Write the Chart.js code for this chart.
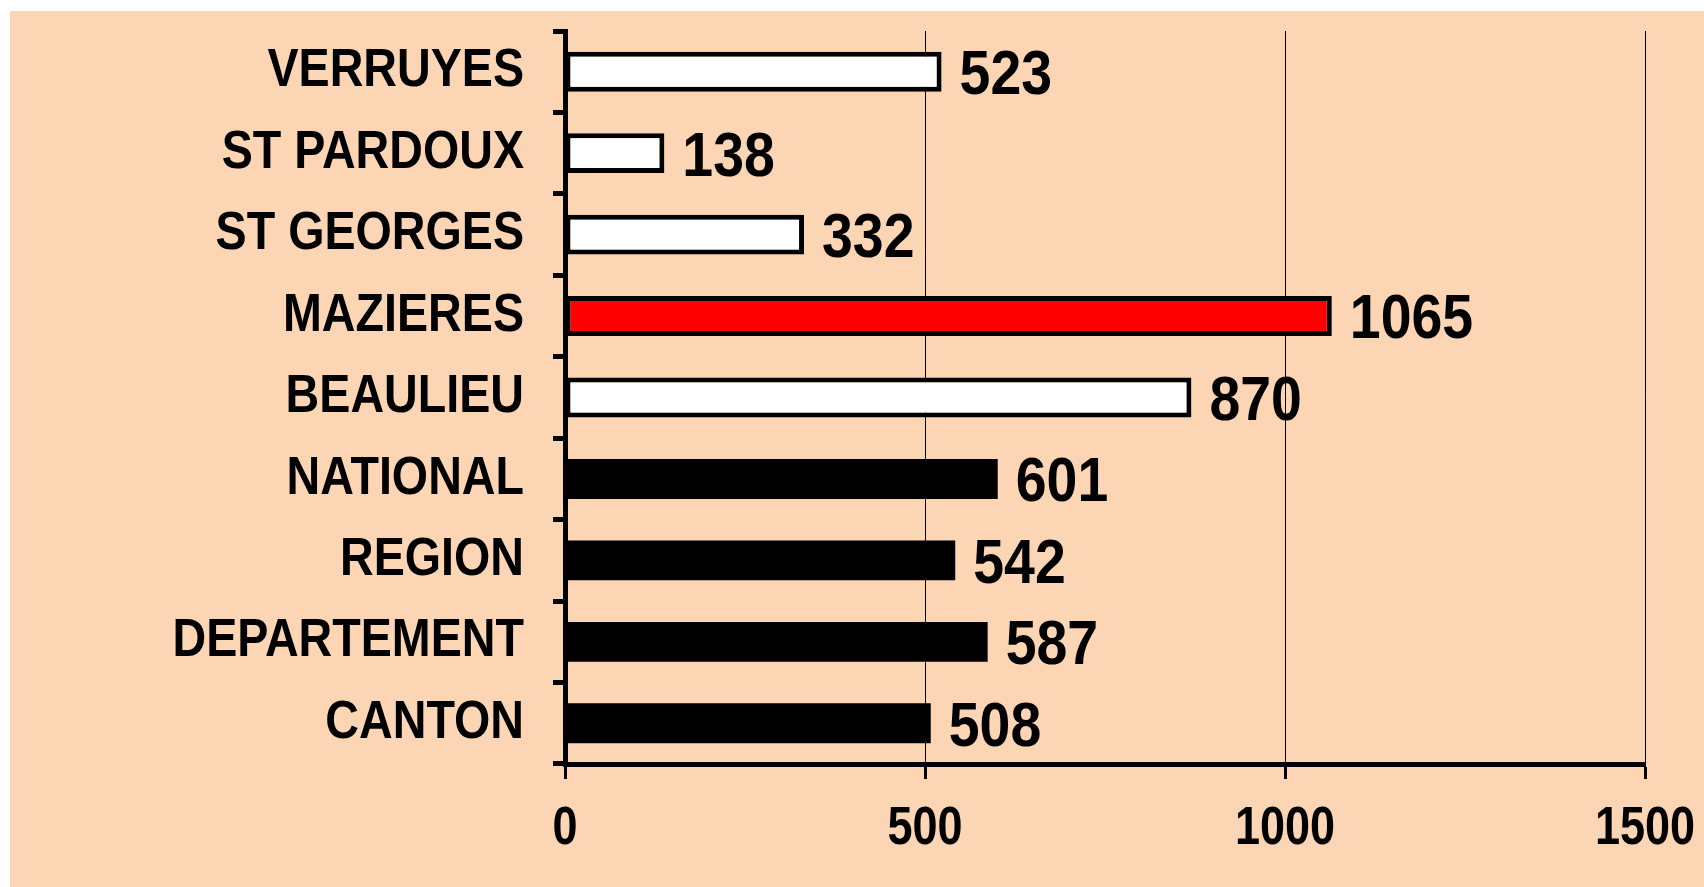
<!DOCTYPE html>
<html>
<head>
<meta charset="utf-8">
<script src="https://cdn.jsdelivr.net/npm/chart.js@4.4.0/dist/chart.umd.min.js"></script>
<style>
  html, body { margin: 0; padding: 0; background: #ffffff; }
  .chart-container {
    position: absolute;
    left: 10px;
    top: 11px;
    width: 1694px;
    height: 876px;
    background: #fcd5b5;
  }
</style>
</head>
<body>
<div class="chart-container">
  <canvas id="chart"></canvas>
</div>
<script>
const categories = [
  'VERRUYES',
  'ST PARDOUX',
  'ST GEORGES',
  'MAZIERES',
  'BEAULIEU',
  'NATIONAL',
  'REGION',
  'DEPARTEMENT',
  'CANTON',
];
const values = [523, 138, 332, 1065, 870, 601, 542, 587, 508];
const xTicks = [0, 500, 1000, 1500];

// white for communes, red for Mazieres, black for the reference areas
const barColors = [
  '#ffffff', '#ffffff', '#ffffff', '#ff0000', '#ffffff',
  '#000000', '#000000', '#000000', '#000000',
];

const FONT = "'Liberation Sans', Arial, sans-serif";

// no narrow face is installed, so squeeze the bold one horizontally
function drawNarrow(ctx, text, x, y, size, align, squeeze) {
  ctx.save();
  ctx.fillStyle = '#000000';
  ctx.font = 'bold ' + size + 'px ' + FONT;
  ctx.textAlign = align;
  ctx.textBaseline = 'middle';
  ctx.translate(x, y);
  ctx.scale(squeeze, 1);
  ctx.fillText(text, 0, 0);
  ctx.restore();
}

const narrowLabels = {
  id: 'narrowLabels',
  afterDraw(chart) {
    const ctx = chart.ctx;
    const xScale = chart.scales.x;
    const yScale = chart.scales.y;

    // category labels
    categories.forEach((name, i) => {
      drawNarrow(ctx, name, yScale.right - 41, yScale.getPixelForValue(i), 53, 'right', 0.88);
    });

    // value axis labels
    xTicks.forEach((v) => {
      drawNarrow(ctx, String(v), xScale.getPixelForValue(v), xScale.top + 65, 53, 'center', 0.85);
    });

    // value written to the right of each bar
    chart.getDatasetMeta(0).data.forEach((bar, i) => {
      drawNarrow(ctx, String(values[i]), bar.x + 18, bar.y + 5, 63, 'left', 0.88);
    });
  },
};

const ctx = document.getElementById('chart').getContext('2d');

new Chart(ctx, {
  type: 'bar',
  data: {
    labels: categories,
    datasets: [
      {
        data: values,
        backgroundColor: barColors,
        borderColor: '#000000',
        borderWidth: barColors.map((c) => (c === '#000000' ? 0 : 5)),
        borderSkipped: false,
        categoryPercentage: 1,
        barPercentage: 0.49,
      },
    ],
  },
  options: {
    indexAxis: 'y',
    responsive: true,
    maintainAspectRatio: false,
    animation: false,
    layout: {
      padding: { top: 20, right: 59, left: 0, bottom: 0 },
    },
    plugins: {
      legend: { display: false },
      tooltip: { enabled: false },
    },
    scales: {
      x: {
        min: 0,
        max: 1500,
        afterBuildTicks: (scale) => {
          scale.ticks = xTicks.map((v) => ({ value: v }));
        },
        afterFit: (scale) => {
          scale.height = 123;
        },
        grid: {
          color: '#000000',
          lineWidth: 1,
          tickColor: '#000000',
          tickLength: 15,
          tickWidth: 3,
        },
        border: { display: true, color: '#000000', width: 5 },
        ticks: { display: false },
      },
      y: {
        afterFit: (scale) => {
          scale.width = 555;
        },
        grid: {
          drawOnChartArea: false,
          offset: true,
          tickColor: '#000000',
          tickLength: 12,
          tickWidth: 5,
        },
        border: { display: true, color: '#000000', width: 5 },
        ticks: { display: false },
      },
    },
  },
  plugins: [narrowLabels],
});
</script>
</body>
</html>
